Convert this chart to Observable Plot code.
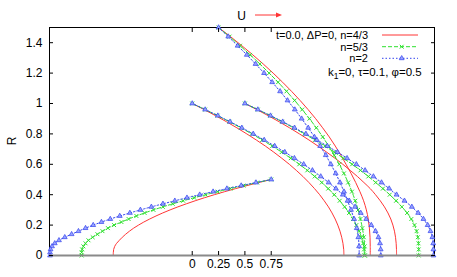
<!DOCTYPE html>
<html><head><meta charset="utf-8">
<script src="https://cdn.jsdelivr.net/npm/d3@7"></script>
<script src="https://cdn.jsdelivr.net/npm/@observablehq/plot@0.6"></script>
<style>body{margin:0;background:#fff}#chart{width:457px;height:277px}</style>
</head><body><div id="chart"></div>
<script>
// tick values
const xTicks = [0, 0.25, 0.5, 0.75];
const yTicks = [0, 0.2, 0.4, 0.6, 0.8, 1, 1.2, 1.4];
const seriesLabels = ["t=0.0, \u0394P=0, n=4/3", "n=5/3", "n=2"];
const paramLabel = ["k", "1", "=0, \u03c4=0.1, \u03c6=0.5"];

// R samples for the four families (start radius 0.5, 1, 1, 1.5)
const rA = [0.5,0.48,0.46,0.44,0.42,0.40,0.38,0.36,0.34,0.32,0.30,0.28,0.26,0.24,0.22,0.20,0.18,0.16,0.14,0.12,0.10,0.08,0.06,0.04,0.02,0];
const rB = [1,0.96,0.92,0.88,0.84,0.80,0.76,0.72,0.68,0.64,0.60,0.56,0.52,0.48,0.44,0.40,0.36,0.32,0.28,0.24,0.20,0.16,0.12,0.08,0.04,0];
const rD = [1.5,1.44,1.38,1.32,1.26,1.20,1.14,1.08,1.02,0.96,0.90,0.84,0.78,0.72,0.66,0.60,0.54,0.48,0.42,0.36,0.30,0.24,0.18,0.12,0.06,0];

// U values (family A: start U=0.75, R=0.5)
const uA_43 = [0.75,0.632,0.520,0.412,0.308,0.210,0.116,0.028,-0.056,-0.136,-0.210,-0.280,-0.344,-0.404,-0.460,-0.510,-0.556,-0.596,-0.632,-0.664,-0.692,-0.718,-0.736,-0.746,-0.749,-0.75];
const uA_53 = [0.75,0.616,0.486,0.362,0.242,0.128,0.019,-0.086,-0.185,-0.279,-0.368,-0.452,-0.530,-0.604,-0.672,-0.742,-0.800,-0.852,-0.900,-0.945,-0.985,-1.013,-1.033,-1.045,-1.05,-1.05];
const uA_2  = [0.75,0.605,0.465,0.329,0.198,0.071,-0.050,-0.165,-0.278,-0.388,-0.492,-0.592,-0.688,-0.778,-0.862,-0.940,-1.013,-1.080,-1.145,-1.210,-1.265,-1.305,-1.331,-1.345,-1.35,-1.35];
// family B: start U=0, R=1
const uB_43 = [0,0.113,0.221,0.325,0.424,0.518,0.608,0.694,0.774,0.850,0.922,0.988,1.051,1.108,1.161,1.210,1.253,1.293,1.327,1.357,1.382,1.403,1.419,1.431,1.438,1.44];
const uB_53 = [0,0.122,0.240,0.353,0.461,0.565,0.664,0.759,0.849,0.935,1.016,1.092,1.163,1.230,1.291,1.348,1.400,1.447,1.489,1.526,1.558,1.585,1.606,1.622,1.631,1.635];
const uB_2  = [0,0.123,0.243,0.359,0.471,0.579,0.683,0.783,0.879,0.970,1.058,1.141,1.220,1.295,1.364,1.430,1.491,1.546,1.600,1.652,1.700,1.740,1.768,1.783,1.789,1.79];
// family C: start U=0.5, R=1
const uC_43 = [0.5,0.613,0.721,0.825,0.924,1.018,1.108,1.194,1.276,1.355,1.430,1.500,1.568,1.630,1.690,1.740,1.785,1.825,1.858,1.885,1.905,1.920,1.930,1.936,1.939,1.94];
const uC_53 = [0.5,0.622,0.740,0.853,0.961,1.065,1.164,1.259,1.349,1.435,1.518,1.597,1.672,1.742,1.810,1.875,1.935,1.990,2.040,2.080,2.110,2.130,2.142,2.148,2.15,2.15];
const uC_2  = [0.5,0.623,0.743,0.859,0.971,1.079,1.183,1.283,1.379,1.470,1.558,1.641,1.720,1.797,1.870,1.940,2.015,2.085,2.145,2.195,2.235,2.262,2.280,2.288,2.29,2.29];
// family D: start U=0.25, R=1.5
const uD_43 = [0.25,0.363,0.471,0.575,0.674,0.768,0.858,0.943,1.024,1.100,1.172,1.238,1.301,1.358,1.411,1.460,1.508,1.552,1.592,1.627,1.653,1.671,1.682,1.688,1.69,1.69];
const uD_53 = [0.25,0.354,0.454,0.550,0.642,0.730,0.815,0.895,0.972,1.044,1.113,1.178,1.239,1.295,1.348,1.396,1.440,1.480,1.516,1.548,1.575,1.597,1.615,1.629,1.637,1.64];
const uD_2  = [0.25,0.342,0.431,0.518,0.601,0.682,0.759,0.834,0.905,0.974,1.039,1.101,1.160,1.215,1.268,1.316,1.362,1.403,1.441,1.475,1.507,1.537,1.562,1.577,1.584,1.585];

function rows(name, us, rs) { return us.map((u, i) => ({U: u, R: rs[i], curve: name})); }
const red = [].concat(rows("A", uA_43, rA), rows("B", uB_43, rB), rows("C", uC_43, rB), rows("D", uD_43, rD));
const green = [].concat(rows("A", uA_53, rA), rows("B", uB_53, rB), rows("C", uC_53, rB), rows("D", uD_53, rD));
const blue = [].concat(rows("A", uA_2, rA), rows("B", uB_2, rB), rows("C", uC_2, rB), rows("D", uD_2, rD));

const RED = "#ff3535", GREEN = "#2ee02e", BLUE = "#3344ee", BLUEFILL = "#98a2ff";
const FONT = "'Liberation Sans', Arial, sans-serif";

const chart = Plot.plot({
  width: 457, height: 277,
  marginLeft: 49, marginRight: 23, marginTop: 27, marginBottom: 22,
  style: {fontFamily: FONT, fontSize: "12px", color: "#000", background: "#fff"},
  x: {domain: [-1.355, 2.30]},
  y: {domain: [0, 1.5]},
  marks: [
    Plot.frame({stroke: "#000"}),
    Plot.line(red, {x: "U", y: "R", z: "curve", stroke: RED, strokeWidth: 1, curve: "catmull-rom"}),
    Plot.line(green, {x: "U", y: "R", z: "curve", stroke: GREEN, strokeWidth: 1, strokeDasharray: "4,2", curve: "catmull-rom"}),
    Plot.dot(green, {x: "U", y: "R", symbol: "times", r: 1.9, stroke: GREEN, strokeWidth: 1}),
    Plot.line(blue, {x: "U", y: "R", z: "curve", stroke: BLUE, strokeWidth: 1, strokeDasharray: "1.5,2", curve: "catmull-rom"}),
    Plot.dot(blue, {x: "U", y: "R", symbol: "triangle", r: 1.8, stroke: BLUE, fill: BLUEFILL, strokeWidth: 0.7}),
    Plot.ruleY([0], {stroke: "#8a8a8a", strokeWidth: 2}),
    Plot.axisY({ticks: yTicks, tickSize: 0, tickPadding: 7, label: null, tickFormat: d => String(d)}),
    Plot.axisY({ticks: yTicks, tickSize: -4, tickFormat: () => "", label: null}),
    Plot.axisY({anchor: "right", ticks: yTicks, tickSize: -4, tickFormat: () => "", label: null}),
    Plot.axisX({ticks: xTicks, tickSize: 0, tickPadding: 4, label: null, tickFormat: d => String(d)}),
    Plot.axisX({ticks: xTicks, tickSize: -4, tickFormat: () => "", label: null}),
    Plot.axisX({anchor: "top", ticks: xTicks, tickSize: -4, tickFormat: () => "", label: null})
  ]
});
document.getElementById("chart").appendChild(chart);

// annotations: axis labels, arrow, legend
const svg = d3.select(chart);
const g = svg.append("g").attr("font-family", FONT).attr("font-size", 12).attr("fill", "#000");
g.append("text").attr("x", 241.7).attr("y", 15.5).attr("text-anchor", "middle").attr("dy", "0.35em").text("U");
g.append("line").attr("x1", 255).attr("x2", 277).attr("y1", 15).attr("y2", 15).attr("stroke", RED).attr("stroke-width", 1);
g.append("path").attr("d", "M276,12.5L282,15L276,17.5Z").attr("fill", RED);
g.append("text").attr("transform", "translate(12,141) rotate(-90)").attr("text-anchor", "middle").attr("dy", "0.35em").text("R");

const lg = g.append("g").attr("font-size", 11);
const ly = [35, 46.7, 58.3];
seriesLabels.forEach((s, i) => {
  lg.append("text").attr("x", 368).attr("y", ly[i]).attr("dy", "0.35em").attr("text-anchor", "end").text(s);
});
lg.append("line").attr("x1", 382).attr("x2", 418).attr("y1", ly[0]).attr("y2", ly[0]).attr("stroke", RED);
lg.append("line").attr("x1", 382).attr("x2", 418).attr("y1", ly[1]).attr("y2", ly[1]).attr("stroke", GREEN).attr("stroke-dasharray", "4,2");
lg.append("path").attr("transform", `translate(401.7,${ly[1]})`).attr("d", d3.symbol(d3.symbolTimes, 1.9 * 1.9 * Math.PI)()).attr("stroke", GREEN).attr("fill", "none");
lg.append("line").attr("x1", 382).attr("x2", 418).attr("y1", ly[2]).attr("y2", ly[2]).attr("stroke", BLUE).attr("stroke-dasharray", "1.5,2");
lg.append("path").attr("transform", `translate(401.7,${ly[2]})`).attr("d", d3.symbol(d3.symbolTriangle, 1.8 * 1.8 * Math.PI)()).attr("stroke", BLUE).attr("stroke-width", 0.7).attr("fill", BLUEFILL);
const kt = lg.append("text").attr("x", 421.7).attr("y", 71.7).attr("dy", "0.35em").attr("text-anchor", "end").attr("font-size", 11.5);
kt.append("tspan").text(paramLabel[0]);
kt.append("tspan").attr("font-size", 8.5).attr("dy", "3").text(paramLabel[1]);
kt.append("tspan").attr("dy", "-3").text(paramLabel[2]);
</script>
</body></html>
